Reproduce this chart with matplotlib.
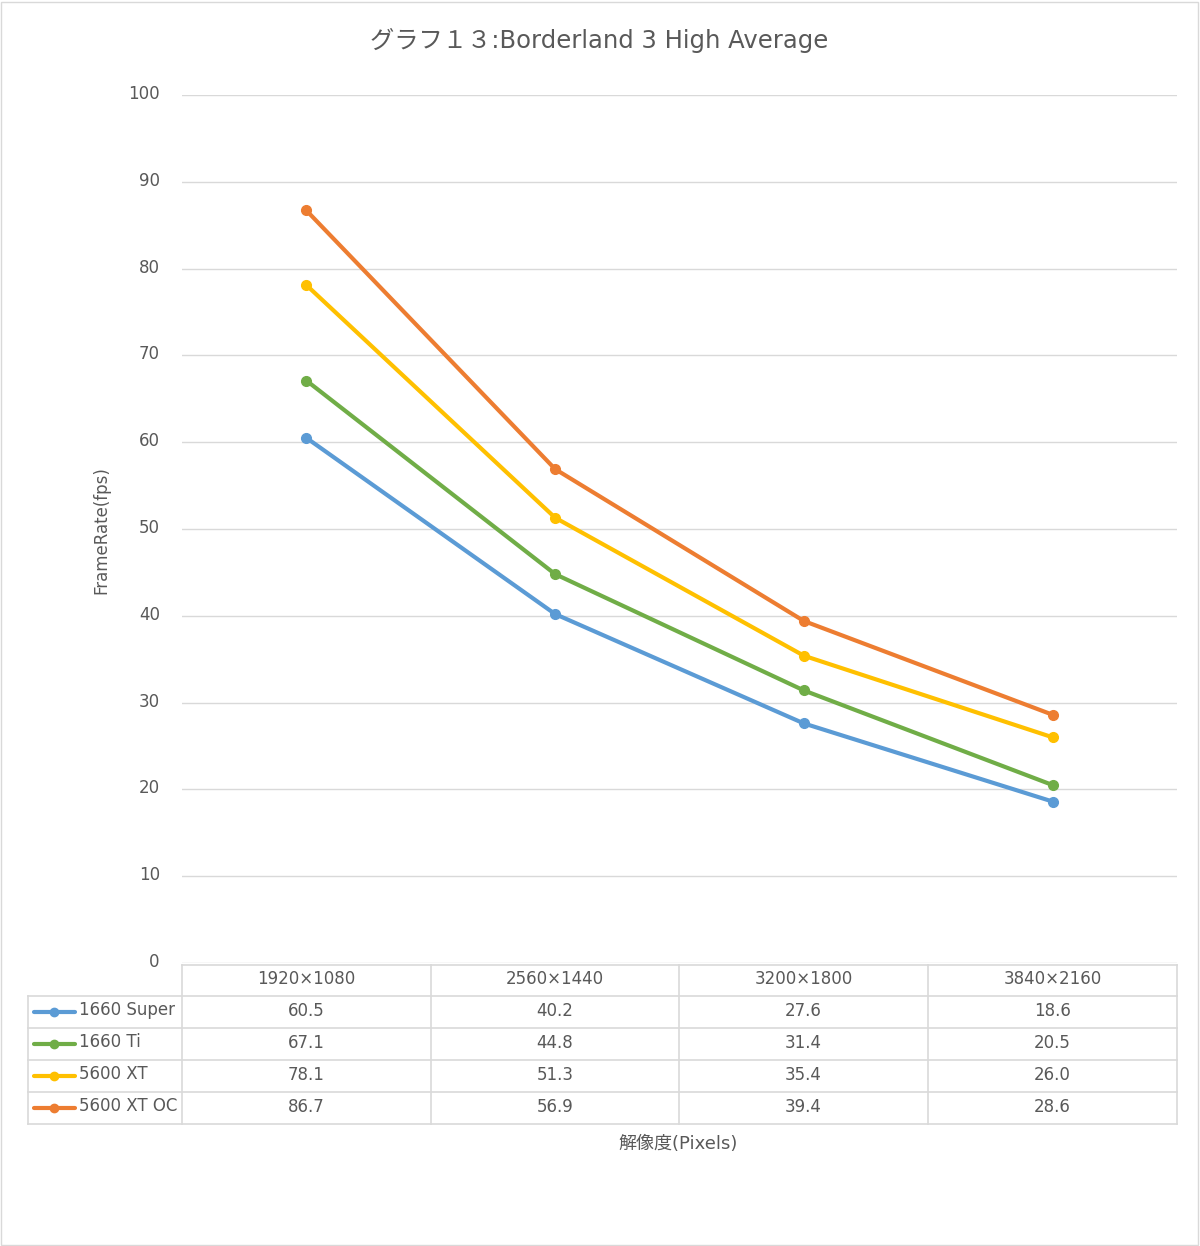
import matplotlib
matplotlib.use("Agg")
import matplotlib.pyplot as plt
import matplotlib.transforms as mtransforms
from matplotlib.patches import Rectangle

plt.rcParams['font.family'] = ['DejaVu Sans', 'Noto Sans CJK JP']

# data
resolutions = ['1920×1080', '2560×1440', '3200×1800', '3840×2160']
series_names = ['1660 Super', '1660 Ti', '5600 XT', '5600 XT OC']
gtx1660s = [60.5, 40.2, 27.6, 18.6]
gtx1660ti = [67.1, 44.8, 31.4, 20.5]
rx5600xt = [78.1, 51.3, 35.4, 26.0]
rx5600xt_oc = [86.7, 56.9, 39.4, 28.6]
series = [gtx1660s, gtx1660ti, rx5600xt, rx5600xt_oc]
colors = ['#5B9BD5', '#70AD47', '#FFC000', '#ED7D31']
yticks = [0, 10, 20, 30, 40, 50, 60, 70, 80, 90, 100]

W, H = 1200, 1246
txt = '#595959'
grid = '#D9D9D9'

fig = plt.figure(figsize=(W / 100, H / 100), dpi=100)

def px_axes(x0, y0, x1, y1):
    return fig.add_axes([x0 / W, 1 - y1 / H, (x1 - x0) / W, (y1 - y0) / H])

# outer border
fig.patches.append(Rectangle((1 / W, 1 / H), (W - 3) / W, (H - 3) / H,
                             transform=fig.transFigure, fill=False,
                             edgecolor='#D9D9D9', lw=1))

# main plot
ax = px_axes(182, 95, 1177, 963)
x = [i + 0.5 for i in range(len(resolutions))]
for vals, c in zip(series, colors):
    ax.plot(x, vals, color=c, lw=3, marker='o', ms=7, zorder=3)
ax.set_xlim(0, len(resolutions))
ax.set_ylim(0, 100)
ax.set_yticks(yticks)
ax.set_yticklabels([str(t) for t in yticks], color=txt, fontsize=12)
ax.tick_params(axis='y', length=0, pad=16)
shift = mtransforms.ScaledTranslation(0, 3 / 100, fig.dpi_scale_trans)
for lbl in ax.get_yticklabels():
    lbl.set_transform(lbl.get_transform() + shift)
ax.set_xticks([])
for t in yticks:
    ax.axhline(t, color=grid, lw=1, zorder=1)
for s in ax.spines.values():
    s.set_visible(False)
ax.set_facecolor('none')

fig.text(101 / W, 1 - 530 / H, 'FrameRate(fps)', rotation=90, ha='center',
         va='center', color=txt, fontsize=12)
fig.text(599 / W, 1 - 40 / H, 'グラフ１３:Borderland 3 High Average', ha='center',
         va='center', color=txt, fontsize=17.5)
fig.text(678 / W, 1 - 1144 / H, '解像度(Pixels)', ha='center', va='center',
         color=txt, fontsize=13)

# data table
tx = px_axes(0, 0, W, H)
tx.set_xlim(0, W)
tx.set_ylim(H, 0)
tx.axis('off')
col_edges = [182, 431, 679, 928, 1177]
row_edges = [965, 996, 1028, 1060, 1092, 1124]
lc = '#D9D9D9'
# header row
tx.plot([182, 1177], [row_edges[0]] * 2, color=lc, lw=1.2)
for y in row_edges[1:]:
    tx.plot([28, 1177], [y, y], color=lc, lw=1.2)
tx.plot([28, 28], [row_edges[1], row_edges[-1]], color=lc, lw=1.2)
for xe in col_edges:
    tx.plot([xe, xe], [row_edges[0], row_edges[-1]], color=lc, lw=1.2)
for j, r in enumerate(resolutions):
    cx = (col_edges[j] + col_edges[j + 1]) / 2
    tx.text(cx, (row_edges[0] + row_edges[1]) / 2 - 2, r, ha='center', va='center',
            color=txt, fontsize=12)
for i, (name, vals, c) in enumerate(zip(series_names, series, colors)):
    cy = (row_edges[i + 1] + row_edges[i + 2]) / 2
    tx.plot([34, 75], [cy, cy], color=c, lw=3, solid_capstyle='round')
    tx.plot([54], [cy], marker='o', color=c, ms=6)
    tx.text(79, cy - 2, name, ha='left', va='center', color=txt, fontsize=12)
    for j, v in enumerate(vals):
        cx = (col_edges[j] + col_edges[j + 1]) / 2
        tx.text(cx, cy - 1, f'{v:.1f}', ha='center', va='center', color=txt, fontsize=12)

fig.savefig('out.png', dpi=100, facecolor='white')
